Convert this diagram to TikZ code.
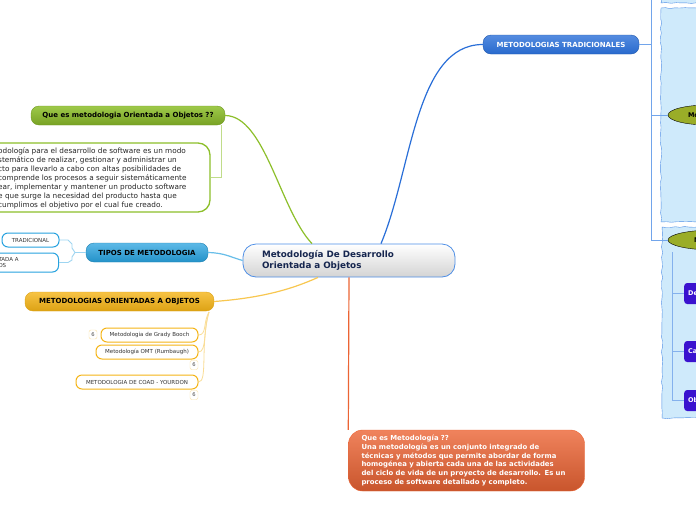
\documentclass[tikz,border=0pt]{standalone}
\usepackage{fontspec}
\setmainfont{DejaVu Sans}
\usepackage{xcolor}
\definecolor{azul}{HTML}{2A6FD8}
\definecolor{azulclaro}{HTML}{4F8FE6}
\definecolor{celeste}{HTML}{CFEAFB}
\definecolor{cian}{HTML}{27A2DF}
\definecolor{verde}{HTML}{8DBF2A}
\definecolor{amarillo}{HTML}{F5B416}
\definecolor{naranja}{HTML}{EC6434}
\definecolor{oliva}{HTML}{9AAD28}
\definecolor{morado}{HTML}{3A12CF}
\definecolor{marino}{HTML}{16264F}
\usetikzlibrary{positioning,shapes.geometric,decorations.pathmorphing}

\begin{document}
\begin{tikzpicture}[x=1pt,y=-1pt,
  centro/.style={rectangle, rounded corners=13pt, draw=azulclaro, thick, top color=white, bottom color=black!17,
    minimum width=212pt, minimum height=33pt, text width=174pt, inner xsep=19pt, align=left,
    font=\fontsize{8.8}{10.6}\selectfont\bfseries, text=marino},
  rama/.style={rectangle, rounded corners=8pt, minimum height=19pt, inner sep=0pt,
    font=\fontsize{7}{8}\selectfont\bfseries},
  caja/.style={rectangle, rounded corners=6pt, fill=white, line width=1pt, inner sep=0pt,
    font=\fontsize{5.5}{6.5}\selectfont, text=black!80},
  etiqueta/.style={rectangle, rounded corners=2pt, draw=amarillo!40, fill=white, minimum width=8pt,
    minimum height=9pt, inner sep=0pt, font=\fontsize{5.2}{5.5}\selectfont, text=black!70},
  panel/.style={fill=celeste, draw=azulclaro, decorate, decoration={random steps, segment length=5pt, amplitude=0.6pt}},
  elipse/.style={ellipse, draw=black, fill=oliva, minimum height=20pt, text width=40pt, align=left,
    inner sep=0pt, font=\fontsize{6.5}{7}\selectfont\bfseries},
  morada/.style={rectangle, rounded corners=3pt, fill=morado, text=white, minimum height=21pt, text width=52pt,
    inner xsep=4pt, align=left, font=\fontsize{6.5}{7}\selectfont\bfseries},
  con/.style={line width=1.2pt},
]
\fill[white] (0,0) rectangle (696,520);
\useasboundingbox (0,0) rectangle (696,520);
\clip (0,0) rectangle (696,520);
\pgfmathsetseed{7}

% paneles de la derecha
\draw[panel] (661,-20) rectangle (720,3);
\draw[panel] (661,8) rectangle (720,222);
\draw[panel] (662,227) rectangle (720,418);

% nodo central
\node[centro] (c) at (349,260.5) {Metodología De Desarrollo\\Orientada a Objetos};

% ramas
\node[rama, top color=azul!80, bottom color=azul!95!black, draw=azul!80!black, text=white, minimum width=156pt] (trad) at (561,44.5) {METODOLOGIAS TRADICIONALES};
\node[rama, top color=verde!85, bottom color=verde!85!black, draw=verde!80!black, minimum width=194pt] (qmo) at (128,115.5) {Que es metodologia Orientada a Objetos ??};
\node[rama, top color=cian!75, bottom color=cian!90!black, draw=cian!80!black, minimum width=122pt] (tipos) at (147,252.5) {TIPOS DE METODOLOGIA};
\node[rama, top color=amarillo!80, bottom color=amarillo!90!black, draw=amarillo!90!black, minimum width=189pt] (oo) at (119.5,301.5) {METODOLOGIAS ORIENTADAS A OBJETOS};

\node[rectangle, rounded corners=14pt, top color=naranja!80, bottom color=naranja!85!black, draw=naranja,
  minimum width=235pt, minimum height=61pt, text width=210pt, inner xsep=13pt, align=left, text=white,
  font=\fontsize{6.9}{8.7}\selectfont\bfseries] (qm) at (466.5,460.5)
  {Que es Metodología ??\\Una metodología es un conjunto integrado de\\técnicas y métodos que permite abordar de forma\\homogénea y abierta cada una de las actividades\\del ciclo de vida de un proyecto de desarrollo. Es un\\proceso de software detallado y completo.};

% definicion
\node[rectangle, rounded corners=12pt, draw=verde, line width=1.3pt, fill=white, minimum width=240pt, minimum height=69pt] (def) at (90,177.5) {};
\node[anchor=west, align=left, inner sep=0pt, font=\fontsize{7.3}{9}\selectfont, text=black!85] (deftxt) at (-2,178)
  {odología para el desarrollo de software es un modo\\stemático de realizar, gestionar y administrar un\\cto para llevarlo a cabo con altas posibilidades de\\comprende los procesos a seguir sistemáticamente\\ear, implementar y mantener un producto software\\e que surge la necesidad del producto hasta que\\cumplimos el objetivo por el cual fue creado.};

% tipos
\node[caja, draw=cian, minimum width=57pt, minimum height=14pt] (tr) at (30.5,240) {TRADICIONAL};
\node[caja, draw=cian, anchor=east, minimum height=19pt, text width=40pt, inner xsep=20pt, align=left] (oa) at (59,262.5) {TADA A\\DS};

% orientadas a objetos
\node[caja, draw=amarillo, minimum width=97pt, minimum height=14pt] (booch) at (149.5,335) {Metodologia de Grady Booch};
\node[caja, draw=amarillo, minimum width=102pt, minimum height=14pt] (omt) at (147,352) {Metodología OMT (Rumbaugh)};
\node[caja, draw=amarillo, minimum width=122pt, minimum height=14pt] (coad) at (137,382) {METODOLOGIA DE COAD - YOURDON};
\node[etiqueta] (t1) at (93,334.5) {6};
\node[etiqueta] (t2) at (194,365) {6};
\node[etiqueta] (t3) at (194,395) {6};

% derecha
\node[elipse, minimum width=80pt] (e1) at (708,115) {Mo};
\node[elipse, minimum width=92pt] (e2) at (714,240) {M};
\node[morada, anchor=west] (de) at (684,293.5) {De};
\node[morada, anchor=west] (ca) at (684,351.5) {Ca};
\node[morada, anchor=west] (ob) at (684,400.5) {Ob};

\coordinate (lt) at (651,-5);
\coordinate (ls) at (672,252);
\coordinate (oc) at (209,312);

% conectores
\draw[con, azul] (c.north -| 381,0) .. controls (412,170) and (415,44.5) .. (trad.west);
\draw[con, verde] (qmo.east) .. controls (265,116) and (280,210) .. (c.north -| 312,0);
\draw[con, cian!70] (tipos.east) .. controls (225,253) and (230,257) .. (c.west);
\draw[con, amarillo!75] (oo.east) .. controls (260,298) and (290,290) .. (c.south -| 318,0);
\draw[con, naranja] (c.south) -- (qm.north west);

\draw[azulclaro!80, line width=0.8pt] (lt) -- (lt |- e2.west);
\draw[azulclaro!80, line width=0.8pt] (trad.east) -- (trad.east -| lt);
\draw[azulclaro!80, line width=0.8pt] (e1.west -| lt) -- (e1.west);
\draw[azulclaro!80, line width=0.8pt] (e2.west -| lt) -- (e2.west);
\draw[azulclaro!70, line width=0.8pt] (ls) -- (ls |- ob.west);
\foreach \n in {de,ca,ob}
  \draw[azulclaro!70, line width=0.8pt] (\n.west -| ls) -- (\n.west);

\draw[verde!55, line width=0.8pt] (qmo.south east) ++(-4,0) |- (def.east);

\draw[cian!45, line width=0.9pt] (tipos.west) -- (75,252.5) -- (72,248) -- (72,244) -- (68,240) -- (tr.east);
\draw[cian!45, line width=0.9pt] (75,252.5) -- (72,257) -- (72,260) -- (68,262.5) -- (oa.east);

\draw[amarillo!45, line width=0.8pt] (oc) .. controls (203,322) and (207,335) .. (booch.east);
\draw[amarillo!45, line width=0.8pt] (oc) .. controls (203,330) and (207,352) .. (omt.east);
\draw[amarillo!45, line width=0.8pt] (oc) .. controls (200,345) and (208,382) .. (coad.east);

\end{tikzpicture}
\end{document}
